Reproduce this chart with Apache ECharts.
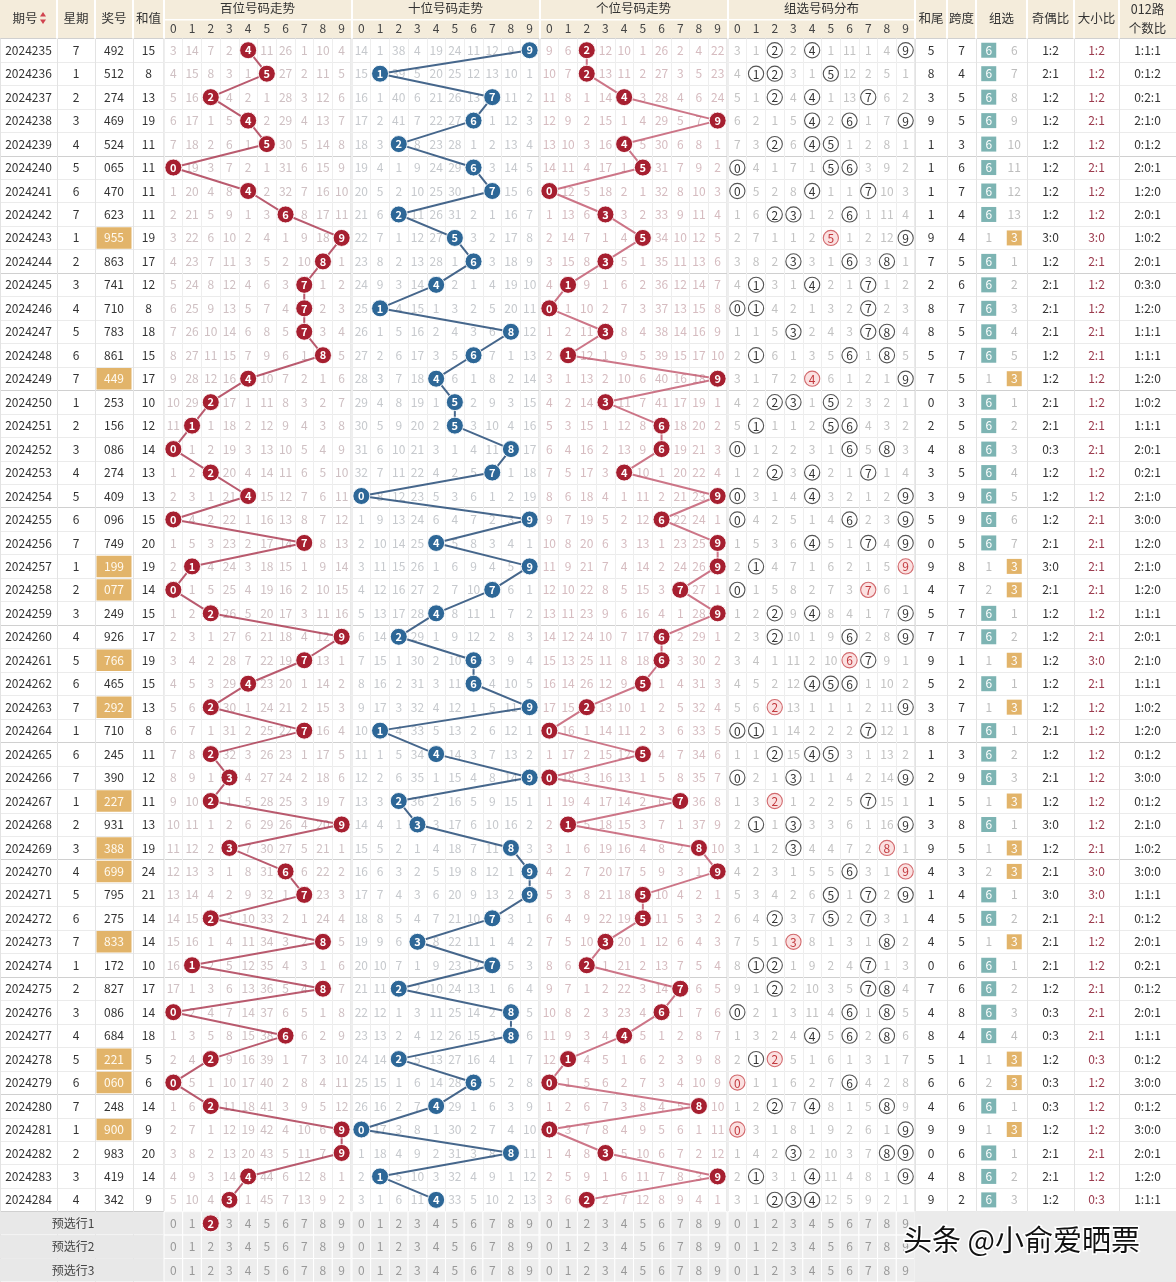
<!DOCTYPE html>
<html><head><meta charset="utf-8">
<script src="https://cdn.jsdelivr.net/npm/echarts@6.0.0/dist/echarts.min.js"></script>
<style>html,body{margin:0;padding:0;background:#fff}#c{width:1176px;height:1282px}</style>
</head><body><div id="c"></div>
<script>
// ---------------- DATA ----------------
const periods = ['2024235','2024236','2024237','2024238','2024239','2024240','2024241','2024242','2024243','2024244',
'2024245','2024246','2024247','2024248','2024249','2024250','2024251','2024252','2024253','2024254',
'2024255','2024256','2024257','2024258','2024259','2024260','2024261','2024262','2024263','2024264',
'2024265','2024266','2024267','2024268','2024269','2024270','2024271','2024272','2024273','2024274',
'2024275','2024276','2024277','2024278','2024279','2024280','2024281','2024282','2024283','2024284'];
const weekdays = [7,1,2,3,4,5,6,7,1,2, 3,4,5,6,7,1,2,3,4,5, 6,7,1,2,3,4,5,6,7,1, 6,7,1,2,3,4,5,6,7,1, 2,3,4,5,6,7,1,2,3,4];
const draws = ['492','512','274','469','524','065','470','623','955','863',
'741','710','783','861','449','253','156','086','274','409',
'096','749','199','077','249','926','766','465','292','710',
'245','390','227','931','388','699','795','275','833','172',
'827','086','684','221','060','248','900','983','419','342'];
const sums = [15,8,13,19,11,11,11,11,19,17, 12,8,18,15,17,10,12,14,13,13, 15,20,19,14,15,17,19,15,13,8,
11,12,11,13,19,24,21,14,14,10, 17,14,18,5,6,14,9,20,14,9];
const digits = ['0','1','2','3','4','5','6','7','8','9'];
const preRows = ['预选行1','预选行2','预选行3'];
// omission values shown in the first row (2024235); the drawn digit's cell = 0
const hundFirst = [3,14,7,2,0,11,26,1,10,4];
const tensFirst = [14,1,38,4,19,24,11,12,9,0];
const unitFirst = [9,6,0,12,10,1,26,2,4,22];
const groupFirst = [3,1,0,2,0,1,11,1,4,0];
const zu6First = 0, zu3First = 6;
const preselectBalls = [{row:'预选行1', section:0, digit:2}];
const titles = ['百位号码走势','十位号码走势','个位号码走势','组选号码分布'];

// ---------------- LAYOUT / STYLE ----------------
const font = "'Noto Sans CJK SC','Noto Sans',sans-serif";
const TOP = 38.5, ROWH = 23.5;
const rowCats = periods.concat(preRows);
const layout = [
  {left:0, width:57, cats:['期号']},
  {left:57, width:38, cats:['星期']},
  {left:95, width:38, cats:['奖号']},
  {left:133, width:31, cats:['和值']},
  {left:164, width:187, cats:digits},
  {left:352, width:187, cats:digits},
  {left:540, width:187, cats:digits},
  {left:728, width:187, cats:digits},
  {left:915, width:32, cats:['和尾']},
  {left:947, width:29, cats:['跨度']},
  {left:976, width:51, cats:['组六','组三']},
  {left:1027, width:47, cats:['奇偶比']},
  {left:1074, width:45, cats:['大小比']},
  {left:1119, width:57, cats:['012路个数比']}
];
const trendStyle = [
  {ball:'#a61f30', line:'rgba(166,45,70,0.78)', om:'#cfc0c3'},
  {ball:'#2d6797', line:'rgba(44,82,124,0.88)', om:'#c6c9cd'},
  {ball:'#a61f30', line:'rgba(192,84,106,0.8)', om:'#d6bcc0'}
];

// ---------------- DERIVED ----------------
const dd = draws.map(s => s.split('').map(Number));
function omissions(first, hits) {
  const out = [first.slice()];
  for (let r = 1; r < hits.length; r++) out.push(out[r-1].map((v,d) => hits[r].includes(d) ? 0 : v + 1));
  return out;
}
const isZu3 = dd.map(a => new Set(a).size === 2);
const zu6Om = [], zu3Om = [];
dd.forEach((a,r) => {
  zu6Om.push(r === 0 ? zu6First : (isZu3[r] ? zu6Om[r-1] + 1 : 0));
  zu3Om.push(r === 0 ? zu3First : (isZu3[r] ? 0 : zu3Om[r-1] + 1));
});

// ---------------- CHART ----------------
const chart = echarts.init(document.getElementById('c'));
const grids = [], xAxes = [], yAxes = [], series = [];
layout.forEach((L, i) => {
  const isDigit = L.cats === digits;
  grids.push({left:L.left, top:TOP, width:L.width, height:ROWH*rowCats.length,
    show:isDigit, borderColor:'#d4d4d4', borderWidth:1, backgroundColor:'transparent'});
  let xc = isDigit ? '#eeeeee' : '#e3e3e3';
  if (L.cats.length === 2) xc = ['#e3e3e3','rgba(0,0,0,0)','#e3e3e3'];
  xAxes.push({type:'category', gridIndex:i, data:L.cats, position:'top',
    axisLine:{show:false}, axisTick:{show:false},
    axisLabel:{show:isDigit, margin:4, fontSize:12, color:'#444', fontFamily:font},
    splitLine:{show:true, lineStyle:{color:xc, width:1}}});
  yAxes.push({type:'category', gridIndex:i, data:rowCats, inverse:true,
    axisLine:{show:false}, axisTick:{show:false}, axisLabel:{show:false},
    splitLine:{show:true, lineStyle:{color:['#d0d0d0','#ebebeb','#ebebeb','#ebebeb','#ebebeb'], width:1}}});
});

function custom(gi, items, draw, z) {
  return {type:'custom', xAxisIndex:gi, yAxisIndex:gi, z:z || 2, silent:true, animation:false, clip:false,
    data: items.map(it => [it.x, it.y]),
    renderItem(params, api) {
      const it = items[params.dataIndex];
      const c = api.coord([api.value(0), api.value(1)]);
      const s = api.size([1, 1]);
      return draw(it, c[0], c[1], s[0], s[1]);
    }};
}
function txt(x, y, text, fill, size, weight) {
  return {type:'text', x:x, y:y, style:{text:String(text), fill:fill, fontSize:size || 12, fontFamily:font,
    fontWeight:weight || 'normal', align:'center', verticalAlign:'middle'}};
}
const plainText = (color) => (it, x, y) => txt(x, y, it.t, it.c || color, 12);

// left columns
series.push(custom(0, periods.map((p,r) => ({x:0, y:r, t:p})), plainText('#333')));
series.push(custom(1, weekdays.map((w,r) => ({x:0, y:r, t:w})), plainText('#333')));
series.push(custom(2, draws.map((d,r) => ({x:0, y:r, t:d, hl:isZu3[r]})), (it, x, y, w, h) => {
  if (!it.hl) return txt(x, y, it.t, '#333', 12);
  return {type:'group', children:[
    {type:'rect', shape:{x:x-w/2+1.5, y:y-h/2+1, width:w-3, height:h-2}, style:{fill:'#e2b46a'}},
    txt(x, y, it.t, '#fffaf0', 12)]};
}));
series.push(custom(3, sums.map((s,r) => ({x:0, y:r, t:s})), plainText('#333')));

// preselect background left
for (let g = 0; g < 4; g++) {
  series.push(custom(g, preRows.map((p,k) => ({x:0, y:50+k, t:p})), (it, x, y, w, h) => {
    const ch = [{type:'rect', shape:{x:x-w/2, y:y-h/2+0.5, width:w+0.6, height:h-1}, style:{fill:'#e8e8e8'}}];
    if (g === 1) ch.push(txt(x-3, y, it.t, '#444', 12));
    return {type:'group', children:ch};
  }, g === 1 ? 4 : 3));
}

// trend sections
[0,1,2].forEach(sec => {
  const gi = 4 + sec, st = trendStyle[sec];
  const first = [hundFirst, tensFirst, unitFirst][sec];
  const hits = dd.map(a => [a[sec]]);
  const om = omissions(first, hits);
  const items = [];
  om.forEach((row, r) => row.forEach((v, d) => { if (d !== dd[r][sec]) items.push({x:d, y:r, t:v}); }));
  series.push(custom(gi, items, plainText(st.om)));
  series.push({type:'line', xAxisIndex:gi, yAxisIndex:gi, z:5, animation:false, silent:true,
    data: dd.map((a, r) => [a[sec], r]),
    symbol:'circle', symbolSize:17, showAllSymbol:true,
    lineStyle:{color:st.line, width:2},
    itemStyle:{color:st.ball, borderColor:'rgba(255,255,255,0.9)', borderWidth:1, opacity:1},
    label:{show:true, position:'inside', formatter:p => p.value[0], color:'#fff', fontWeight:'bold', fontSize:11, fontFamily:font},
    emphasis:{disabled:true}});
});

// 组选 distribution
(function(){
  const gi = 7;
  const om = omissions(groupFirst, dd);
  const items = [];
  om.forEach((row, r) => row.forEach((v, d) => {
    const cnt = dd[r].filter(x => x === d).length;
    items.push({x:d, y:r, t: cnt ? d : v, kind: cnt === 0 ? 0 : (cnt > 1 ? 2 : 1)});
  }));
  series.push(custom(gi, items, (it, x, y) => {
    if (it.kind === 0) return txt(x, y, it.t, '#c3c3c3', 12);
    const red = it.kind === 2;
    return {type:'group', children:[
      {type:'circle', shape:{cx:x, cy:y, r:7.6}, style:{fill: red ? '#fbe1e1' : '#fff', stroke: red ? '#d2696d' : '#555', lineWidth:1.1}},
      txt(x, y+0.5, it.t, red ? '#c23a3f' : '#333', 12)]};
  }));
})();

// preselect digit cells for the four digit sections
for (let sec = 0; sec < 4; sec++) {
  const items = [];
  preRows.forEach((p, k) => digits.forEach((d, j) => items.push({x:j, y:50+k, t:d})));
  series.push(custom(4+sec, items, (it, x, y, w, h) => ({type:'group', children:[
    {type:'rect', shape:{x:x-w/2, y:y-h/2, width:w, height:h}, style:{fill:'#ededed', stroke:'#fff', lineWidth:1}},
    txt(x, y, it.t, '#999', 12)]}), 3));
}
preselectBalls.forEach(b => {
  series.push({type:'scatter', xAxisIndex:4+b.section, yAxisIndex:4+b.section, z:6, animation:false, silent:true,
    data:[[b.digit, rowCats.indexOf(b.row)]], symbolSize:17,
    itemStyle:{color:trendStyle[b.section].ball, opacity:1, borderColor:'rgba(255,255,255,0.9)', borderWidth:1},
    label:{show:true, position:'inside', formatter:p => p.value[0], color:'#fff', fontWeight:'bold', fontSize:11, fontFamily:font},
    emphasis:{disabled:true}});
});

// right columns
series.push(custom(8, sums.map((s,r) => ({x:0, y:r, t:s % 10})), plainText('#333')));
series.push(custom(9, dd.map((a,r) => ({x:0, y:r, t:Math.max(...a) - Math.min(...a)})), plainText('#333')));
(function(){
  const items = [];
  dd.forEach((a, r) => {
    items.push({x:0, y:r, t: isZu3[r] ? zu6Om[r] : '6', box: isZu3[r] ? null : '#7db4b3'});
    items.push({x:1, y:r, t: isZu3[r] ? '3' : zu3Om[r], box: isZu3[r] ? '#e2b46a' : null});
  });
  series.push(custom(10, items, (it, x, y) => {
    if (!it.box) return txt(x, y, it.t, '#bdbdbd', 12);
    return {type:'group', children:[
      {type:'rect', shape:{x:x-7.5, y:y-7.5, width:15, height:15}, style:{fill:it.box}},
      txt(x, y, it.t, '#fff', 12)]};
  }));
})();
series.push(custom(11, dd.map((a,r) => ({x:0, y:r, t:a.filter(d => d % 2).length + ':' + a.filter(d => d % 2 === 0).length})), plainText('#333')));
series.push(custom(12, dd.map((a,r) => ({x:0, y:r, t:a.filter(d => d >= 5).length + ':' + a.filter(d => d < 5).length})), plainText('#9b3a4d')));
series.push(custom(13, dd.map((a,r) => ({x:0, y:r, t:[0,1,2].map(m => a.filter(d => d % 3 === m).length).join(':')})), plainText('#333')));
// preselect background right
for (let g = 8; g < 14; g++) {
  const n = layout[g].cats.length;
  const items = [];
  preRows.forEach((p,k) => { for (let j = 0; j < n; j++) items.push({x:j, y:50+k}); });
  series.push(custom(g, items, (it, x, y, w, h) => ({type:'rect', shape:{x:x-w/2-0.5, y:y-h/2-0.5, width:w+1.5, height:h+1.5}, style:{fill:'#ebebeb'}}), 3));
}

// ---------------- HEADER (graphic) ----------------
const graphic = [{type:'rect', shape:{x:0, y:0, width:1176, height:TOP}, style:{fill:'#f4ecdb'}, z:0}];
layout.forEach((L, i) => {
  if (i > 0) graphic.push({type:'rect', shape:{x:L.left-1, y:0, width:2, height:TOP}, style:{fill:'#fff'}, z:1});
});
graphic.push({type:'rect', shape:{x:164, y:19, width:751, height:1.5}, style:{fill:'#fff'}, z:1});
const hdr = (x, y, t) => ({type:'text', x:x, y:y, z:2, style:{text:t, fill:'#333', fontSize:12.5, fontFamily:font, align:'center', verticalAlign:'middle'}});
graphic.push(hdr(25, 18, '期号'));
graphic.push({type:'polygon', shape:{points:[[40,16.5],[46,16.5],[43,12]]}, style:{fill:'#d0434f'}, z:2});
graphic.push({type:'polygon', shape:{points:[[40,19.5],[46,19.5],[43,24]]}, style:{fill:'#d0434f'}, z:2});
graphic.push(hdr(76, 18, '星期'), hdr(114, 18, '奖号'), hdr(148.5, 18, '和值'));
[4,5,6,7].forEach((gi, k) => graphic.push(hdr(layout[gi].left + layout[gi].width/2, 8, titles[k])));
graphic.push(hdr(931, 18, '和尾'), hdr(961.5, 18, '跨度'), hdr(1001.5, 18, '组选'), hdr(1050.5, 18, '奇偶比'), hdr(1096.5, 18, '大小比'), hdr(1147.5, 9, '012路'), hdr(1147.5, 28, '个数比'));
graphic.push({type:'text', x:903, y:1240, z:100, style:{text:'头条 @小俞爱晒票', fill:'#111', stroke:'#fff', lineWidth:3, fontSize:29, fontFamily:font, align:'left', verticalAlign:'middle'}});

chart.setOption({animation:false, grid:grids, xAxis:xAxes, yAxis:yAxes, series:series, graphic:graphic});
</script></body></html>
